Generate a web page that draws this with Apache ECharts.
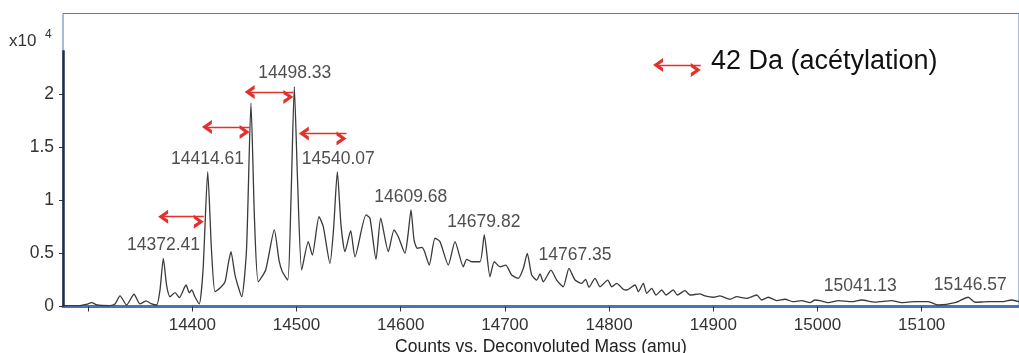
<!DOCTYPE html>
<html>
<head>
<meta charset="utf-8">
<script src="https://cdn.jsdelivr.net/npm/echarts@6/dist/echarts.min.js"></script>
<style>
html,body{margin:0;padding:0;background:#ffffff;}
#chart{width:1019px;height:353px;}
</style>
</head>
<body>
<div id="chart"></div>
<script>
// ---- Data ----
const masses = [
  14275.9,14292.2,14298.0,14303.5,14308.5,14321.0,14325.8,14330.6,14337.0,14344.0,
  14349.8,14355.6,14360.4,14365.8,14369.0,14372.2,14375.3,14378.6,14383.4,14387.5,
  14394.0,14397.1,14399.4,14402.6,14406.7,14410.3,14414.8,14418.4,14421.8,14426.6,
  14431.4,14434.3,14437.1,14441.0,14447.4,14452.0,14456.3,14459.7,14463.3,14470.4,
  14478.7,14483.2,14486.4,14491.6,14494.7,14497.9,14501.0,14505.0,14511.3,14515.2,
  14521.6,14525.7,14532.1,14535.5,14539.2,14542.7,14546.5,14552.0,14556.1,14566.7,
  14570.5,14576.3,14580.8,14588.1,14593.6,14597.7,14604.1,14607.0,14609.9,14612.8,
  14615.9,14620.2,14622.6,14627.4,14632.9,14637.7,14645.7,14652.1,14660.1,14663.3,
  14668.1,14676.1,14680.2,14685.7,14689.8,14695.3,14700.8,14706.5,14712.9,14717.7,
  14721.5,14725.7,14730.5,14733.7,14736.9,14744.2,14749.7,14756.0,14761.5,14767.3,
  14773.7,14777.5,14780.7,14786.5,14791.3,14798.7,14802.5,14807.3,14813.6,14816.9,
  14824.9,14828.1,14832.9,14836.1,14840.9,14845.0,14850.5,14854.6,14861.6,14865.5,
  14872.8,14877.6,14887.2,14892.0,14900.0,14906.4,14916.0,14922.5,14932.1,14941.7,
  14946.5,14952.8,14960.9,14968.8,14976.8,14984.8,14992.8,14997.6,15002.4,15010.4,
  15020.0,15032.8,15042.4,15055.2,15071.2,15080.8,15093.6,15106.3,15115.9,15132.0,
  15144.7,15151.2,15163.9,15176.8,15186.4,15193.4
];
// intensities in units of 10^4 counts
const intensities = [
  0.009,0.009,0.019,0.036,0.014,0.009,0.024,0.099,0.014,0.115,
  0.024,0.052,0.028,0.014,0.155,0.453,0.202,0.092,0.130,0.083,
  0.202,0.130,0.155,0.089,0.024,0.343,1.268,0.532,0.139,0.174,
  0.233,0.390,0.516,0.296,0.092,0.532,1.912,0.814,0.233,0.343,
  0.720,0.437,0.327,0.249,1.002,2.068,1.190,0.343,0.610,0.484,
  0.845,0.751,0.406,0.720,1.268,0.767,0.516,0.713,0.468,0.861,
  0.830,0.444,0.830,0.516,0.720,0.657,0.500,0.673,0.908,0.626,
  0.548,0.557,0.525,0.390,0.642,0.610,0.390,0.610,0.374,0.444,
  0.421,0.421,0.673,0.280,0.421,0.374,0.390,0.296,0.265,0.359,
  0.500,0.296,0.249,0.306,0.233,0.343,0.249,0.186,0.359,0.249,
  0.218,0.256,0.181,0.265,0.186,0.249,0.186,0.218,0.162,0.155,
  0.202,0.139,0.218,0.124,0.171,0.108,0.155,0.108,0.155,0.108,
  0.149,0.108,0.118,0.099,0.087,0.099,0.068,0.092,0.077,0.108,
  0.061,0.087,0.055,0.068,0.045,0.055,0.036,0.061,0.055,0.036,
  0.055,0.045,0.061,0.042,0.055,0.036,0.045,0.045,0.014,0.036,
  0.087,0.040,0.045,0.045,0.061,0.045
];
const peakMasses  = [14372.41, 14414.61, 14498.33, 14540.07, 14609.68, 14679.82, 14767.35, 15041.13, 15146.57];
const peakHeights = [0.453, 1.268, 2.068, 1.268, 0.908, 0.673, 0.357, 0.066, 0.083];
const peakLabels  = ['14372.41','14414.61','14498.33','14540.07','14609.68','14679.82','14767.35','15041.13','15146.57'];

const arrowFrom = [14372, 14414, 14455, 14507, 14847];
const arrowTo   = [14411, 14455, 14497, 14548, 14888];
const arrowY    = [0.845, 1.689, 2.018, 1.627, 2.272];

const xTickValues  = [14300, 14400, 14500, 14600, 14700, 14800, 14900, 15000, 15100];
const xLabelValues = [14400, 14500, 14600, 14700, 14800, 14900, 15000, 15100];
const yTickValues  = [0, 0.5, 1, 1.5, 2];

const legendText = '42 Da (acétylation)';
const xAxisTitle = 'Counts vs. Deconvoluted Mass (amu)';
const scaleBase = 'x10';
const scaleExp = '4';

const X_MIN = 14275.9, X_MAX = 15193.4, Y_MIN = 0, Y_MAX = 2.756, Y_AXIS_TOP = 2.41;

// ---- Chart ----
const FONT = 'Arial, "Liberation Sans", sans-serif';
const RED = '#e4302b';
const CHEVRON = 'path://M5,0L10,10L7.2,10L5,5.4L2.8,10L0,10Z';

const markLineData = [
  [
    {coord: [X_MIN, Y_MIN], symbol: 'none', lineStyle: {color: '#1e2c4a', width: 2.5, type: 'solid'}},
    {coord: [X_MIN, Y_AXIS_TOP], symbol: 'none'}
  ]
];
arrowFrom.forEach((a, i) => {
  markLineData.push([
    {coord: [a, arrowY[i]]},
    {coord: [arrowTo[i], arrowY[i]]}
  ]);
});

const chart = echarts.init(document.getElementById('chart'), null, {renderer: 'canvas'});
chart.setOption({
  animation: false,
  backgroundColor: '#ffffff',
  textStyle: {fontFamily: FONT},
  grid: {left: 63, right: 0, top: 13.5, bottom: 46.5, show: true, borderColor: '#5079bf', borderWidth: 1,
    backgroundColor: 'transparent', containLabel: false, outerBoundsMode: 'none'},
  xAxis: {
    type: 'value', min: X_MIN, max: X_MAX,
    axisLine: {show: true, onZero: false, lineStyle: {color: '#4a73b9', width: 3}},
    axisTick: {show: true, customValues: xTickValues, length: 5, lineStyle: {color: '#333', width: 1}},
    axisLabel: {show: true, customValues: xLabelValues, fontSize: 17, color: '#333', margin: 10, fontFamily: FONT,
      formatter: v => String(v)},
    splitLine: {show: false},
    name: xAxisTitle, nameLocation: 'middle', nameGap: 29,
    nameTextStyle: {fontSize: 17.5, color: '#222', fontFamily: FONT}
  },
  yAxis: {
    type: 'value', min: Y_MIN, max: Y_MAX,
    axisLine: {show: false},
    axisTick: {show: true, customValues: yTickValues, length: 4, lineStyle: {color: '#333', width: 1}},
    axisLabel: {show: true, customValues: yTickValues, fontSize: 17.5, color: '#333', margin: 9, fontFamily: FONT,
      formatter: v => String(v)},
    splitLine: {show: false}
  },
  graphic: [
    {type: 'text', left: 9, top: 33, silent: true,
      style: {text: scaleBase, font: '17px ' + FONT, fill: '#333'}},
    {type: 'text', left: 45, top: 29, silent: true,
      style: {text: scaleExp, font: '12px ' + FONT, fill: '#333'}},
    {type: 'text', left: 711, top: 48, silent: true,
      style: {text: legendText, font: '27px ' + FONT, fill: '#111'}}
  ],
  series: [
    {
      type: 'line',
      data: masses.map((m, i) => [m, intensities[i]]),
      showSymbol: false, symbol: 'none',
      smooth: 0.2,
      lineStyle: {color: '#3a3a3a', width: 1.3},
      silent: true,
      z: 2,
      markLine: {
        silent: true,
        symbol: [CHEVRON, CHEVRON],
        symbolSize: [14, 10],
        symbolOffset: [0, 5],
        label: {show: false},
        emphasis: {disabled: true},
        lineStyle: {color: RED, width: 1.3, type: 'solid'},
        data: markLineData
      }
    },
    {
      type: 'scatter',
      data: peakMasses.map((m, i) => ({value: [m, peakHeights[i]], label: {show: true, formatter: peakLabels[i]}})),
      symbolSize: 2,
      itemStyle: {color: 'rgba(0,0,0,0)'},
      silent: true,
      label: {show: true, position: 'top', distance: 3, fontSize: 17.5, color: '#222', fontFamily: FONT},
      labelLayout: {hideOverlap: false},
      z: 3
    }
  ]
});
</script>
</body>
</html>
